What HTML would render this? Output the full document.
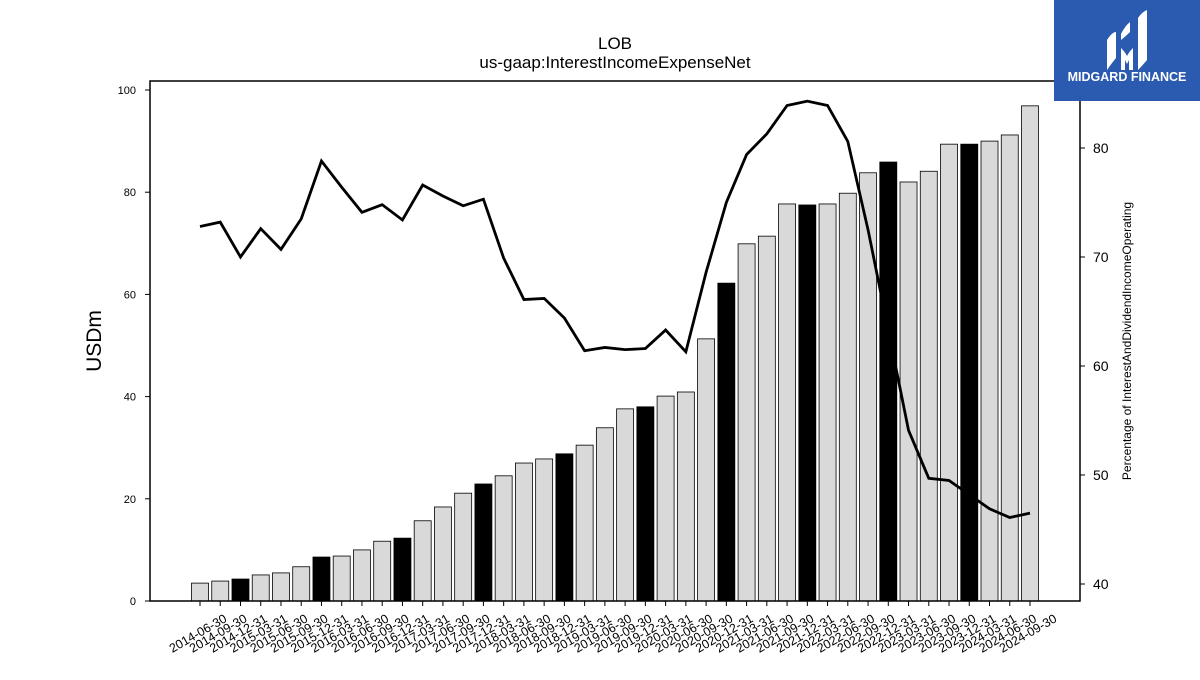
<!DOCTYPE html>
<html><head><meta charset="utf-8"><style>
body{margin:0;background:#fff;width:1200px;height:675px;overflow:hidden;font-family:"Liberation Sans","DejaVu Sans",sans-serif}
</style></head><body>
<svg id="c" width="1200" height="675" xmlns="http://www.w3.org/2000/svg">
<text x="615" y="49" text-anchor="middle" font-size="17">LOB</text>
<text x="615" y="68" text-anchor="middle" font-size="17">us-gaap:InterestIncomeExpenseNet</text>
<g id="bars"></g>
<g id="xt"></g>
<g id="yl"></g>
<g id="yr"></g>
<path id="line" fill="none" stroke="#000" stroke-width="2.8"/>
<rect x="150" y="81" width="930" height="520" fill="none" stroke="#000" stroke-width="1.5"/>
<text x="0" y="0" transform="translate(101,341) rotate(-90)" text-anchor="middle" font-size="21">USDm</text>
<text x="0" y="0" transform="translate(1131,341) rotate(-90)" text-anchor="middle" font-size="12">Percentage of InterestAndDividendIncomeOperating</text>
<g>
<rect x="1054" y="0" width="146" height="101" fill="#2b5bb0"/>
<path d="M1107,40 q5,-8 9,-8 v26 q-5,6 -9,12z M1121,34 q4,-8 9,-12 v10 q-4,4 -9,8z M1121,48 q4,4 6,8 q2,-4 6,-8 v22 h-4 v-10 l-2,4 l-2,-4 v10 h-4z M1138,18 q4,-6 9,-8 v50 q-5,6 -9,10z" fill="#fff"/>
<text x="1127" y="81" text-anchor="middle" font-size="12.5" font-weight="bold" fill="#fff">MIDGARD FINANCE</text>
</g>
</svg>
<script>
const dates=["2014-06-30","2014-09-30","2014-12-31","2015-03-31","2015-06-30","2015-09-30","2015-12-31","2016-03-31","2016-06-30","2016-09-30","2016-12-31","2017-03-31","2017-06-30","2017-09-30","2017-12-31","2018-03-31","2018-06-30","2018-09-30","2018-12-31","2019-03-31","2019-06-30","2019-09-30","2019-12-31","2020-03-31","2020-06-30","2020-09-30","2020-12-31","2021-03-31","2021-06-30","2021-09-30","2021-12-31","2022-03-31","2022-06-30","2022-09-30","2022-12-31","2023-03-31","2023-06-30","2023-09-30","2023-12-31","2024-03-31","2024-06-30","2024-09-30"];
const values=[3.5,3.9,4.3,5.1,5.5,6.7,8.6,8.8,10.0,11.7,12.3,15.7,18.4,21.1,22.9,24.5,27.0,27.8,28.8,30.5,33.9,37.6,38.0,40.1,40.9,51.3,62.2,69.9,71.4,77.7,77.5,77.7,79.8,83.8,85.9,82.0,84.1,89.4,89.4,90.0,91.2,96.9];
const pct=[72.8,73.2,70.0,72.6,70.7,73.5,78.8,76.4,74.1,74.8,73.4,76.6,75.6,74.7,75.3,69.9,66.1,66.2,64.4,61.4,61.7,61.5,61.6,63.3,61.3,68.6,75.0,79.4,81.3,83.9,84.3,83.9,80.6,72.5,63.3,54.1,49.7,49.5,48.2,46.9,46.1,46.5];
const leftTicks=[0,20,40,60,80,100];
const rightTicks=[40,50,60,70,80];
const NS="http://www.w3.org/2000/svg";
const x=i=>200+i*(1030-200)/41;
const yL=v=>601-v*5.11;
const yR=v=>584-(v-40)*10.9;
function mk(t,a,p){const e=document.createElementNS(NS,t);for(const k in a)e.setAttribute(k,a[k]);document.getElementById(p).appendChild(e);return e;}
values.forEach((v,i)=>{
 const r=mk('rect',{x:x(i)-8.5,y:yL(v),width:17,height:601-yL(v),fill:dates[i].endsWith('12-31')?'#000':'#d9d9d9',stroke:'#000','stroke-width':0.8},'bars');
 
 
 mk('line',{x1:x(i),x2:x(i),y1:601,y2:606,stroke:'#000'},'xt');
 const t=mk('text',{x:0,y:0,transform:`translate(${x(i)},${637}) rotate(-30)`,'text-anchor':'middle','font-size':12.5},'xt');
 t.textContent=dates[i];
 
 
});
leftTicks.forEach(v=>{
 mk('line',{x1:145,x2:150,y1:yL(v),y2:yL(v),stroke:'#000'},'yl');
 const t=mk('text',{x:136,y:yL(v)+4,'text-anchor':'end','font-size':11},'yl');t.textContent=v;
 
 
});
rightTicks.forEach(v=>{
 mk('line',{x1:1080,x2:1085,y1:yR(v),y2:yR(v),stroke:'#000'},'yr');
 const t=mk('text',{x:1093,y:yR(v)+5,'font-size':14},'yr');t.textContent=v;
 
 
});
document.getElementById('line').setAttribute('d',pct.map((p,i)=>(i?'L':'M')+x(i)+','+yR(p)).join(' '));
</script>
</body></html>
